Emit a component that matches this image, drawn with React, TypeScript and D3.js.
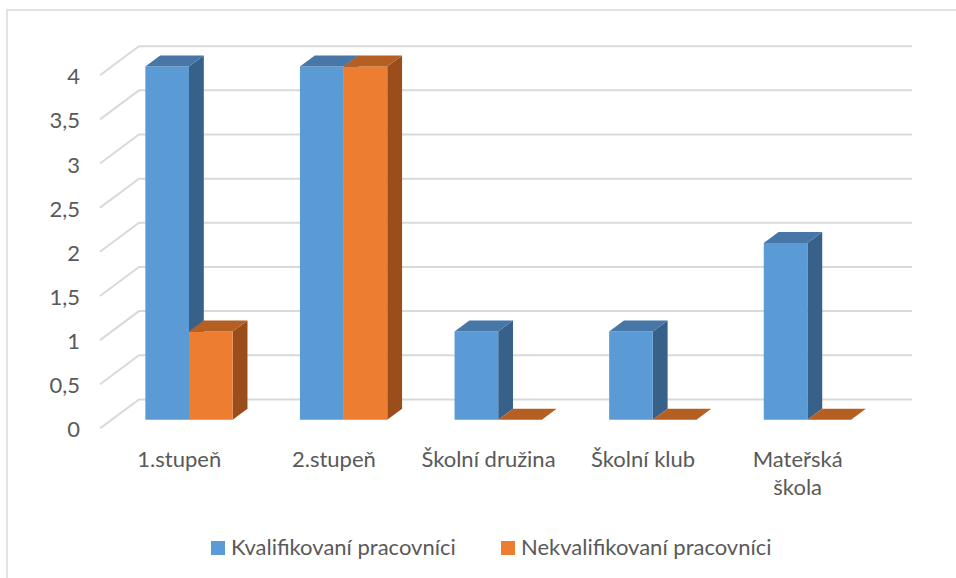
import React from "react";
import * as d3 from "d3";

const categories = ["1.stupeň", "2.stupeň", "Školní družina", "Školní klub", "Mateřská škola"];
const categoryLines = [["1.stupeň"], ["2.stupeň"], ["Školní družina"], ["Školní klub"], ["Mateřská", "škola"]];
const seriesNames = ["Kvalifikovaní pracovníci", "Nekvalifikovaní pracovníci"];
const kvalifikovani = [4, 4, 1, 1, 2];
const nekvalifikovani = [1, 4, 0, 0, 0];
const yTicks = [0, 0.5, 1, 1.5, 2, 2.5, 3, 3.5, 4];
const yTickLabels = ["0", "0,5", "1", "1,5", "2", "2,5", "3", "3,5", "4"];

const W = 956;
const H = 578;
const FONT = "Lato, 'Open Sans', sans-serif";
const TEXT = "#595959";
const GRID = "#d9d9d9";
const DX = 39;
const DY = 29;
const Z_FRONT = 0.3;
const Z_BACK = 0.68;

const colors = [
  { front: "#5b9bd5", top: "#4677a7", side: "#386189" },
  { front: "#ed7d31", top: "#b65f22", side: "#9a4e1c" },
];

export default function App() {
  const x = d3.scaleBand<string>().domain(categories).range([100, 873]).paddingInner(0).paddingOuter(0);
  const barW = 43.65;
  const y = d3.scaleLinear().domain([0, 4]).range([428.4, 75.2]);
  const seriesValues = [kvalifikovani, nekvalifikovani];

  const bars: React.ReactNode[] = [];
  categories.forEach((c, ci) => {
    const center = (x(c) ?? 0) + x.bandwidth() / 2;
    const xs = d3.scaleBand<number>().domain([0, 1]).range([center - barW, center + barW]);
    [0, 1].forEach((si) => {
      const v = seriesValues[si][ci];
      const col = colors[si];
      const x0 = xs(si) ?? 0;
      const x1 = x0 + xs.bandwidth();
      const yb = y(0);
      const yt = y(v);
      const fx = Z_FRONT * DX, fy = Z_FRONT * DY;
      const bx = Z_BACK * DX, by = Z_BACK * DY;
      const P = (px: number, py: number, dx: number, dy: number) => `${px + dx},${py - dy}`;
      const top = [P(x0, yt, fx, fy), P(x1, yt, fx, fy), P(x1, yt, bx, by), P(x0, yt, bx, by)].join(" ");
      const side = [P(x1, yt, fx, fy), P(x1, yt, bx, by), P(x1, yb, bx, by), P(x1, yb, fx, fy)].join(" ");
      const front = [P(x0, yt, fx, fy), P(x1, yt, fx, fy), P(x1, yb, fx, fy), P(x0, yb, fx, fy)].join(" ");
      bars.push(
        <g key={`${ci}-${si}`}>
          {v > 0 && <polygon points={side} fill={col.side} />}
          {v > 0 && <polygon points={front} fill={col.front} />}
          <polygon points={top} fill={col.top} />
        </g>
      );
    });
  });

  const fs = 22;

  return (
    <svg width={W} height={H} style={{ position: "absolute", left: 0, top: 0 }} fontFamily={FONT}>
      <rect x={0} y={0} width={W} height={H} fill="#fff" />
      <rect x={7} y={10} width={W + 20} height={H + 20} fill="none" stroke={GRID} strokeWidth={1.5} />
      {yTicks.map((t) => (
        <polyline
          key={t}
          points={`100,${y(t)} ${100 + DX},${y(t) - DY} 912,${y(t) - DY}`}
          fill="none"
          stroke={GRID}
          strokeWidth={2}
        />
      ))}
      {yTicks.map((t, i) => (
        <text key={t} x={80} y={y(t) + 9} textAnchor="end" fontSize={fs} fill={TEXT}>
          {yTickLabels[i]}
        </text>
      ))}
      {bars}
      {categories.map((c, ci) => {
        const cx = (x(c) ?? 0) + x.bandwidth() / 2 + 2;
        return (
          <text key={c} x={cx} y={467} textAnchor="middle" fontSize={fs} fill={TEXT}>
            {categoryLines[ci].map((l, li) => (
              <tspan key={li} x={cx} dy={li === 0 ? 0 : 28}>
                {l}
              </tspan>
            ))}
          </text>
        );
      })}
      {seriesNames.map((s, si) => {
        const lx = si === 0 ? 211 : 501;
        return (
          <g key={s}>
            <rect x={lx} y={541} width={14} height={14} fill={colors[si].front} />
            <text x={lx + 20} y={555} fontSize={fs} fill={TEXT}>
              {s}
            </text>
          </g>
        );
      })}
    </svg>
  );
}
